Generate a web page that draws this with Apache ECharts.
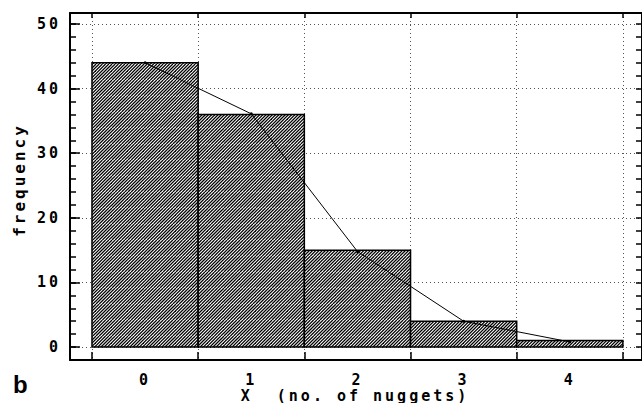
<!DOCTYPE html>
<html>
<head>
<meta charset="utf-8">
<script src="https://cdn.jsdelivr.net/npm/echarts@6/dist/echarts.min.js"></script>
<style>
  html, body { margin: 0; padding: 0; background: #fff; }
  #chart { width: 642px; height: 403px; }
  /* wide plotter-style lettering */
  #chart text { letter-spacing: 3px; }
</style>
</head>
<body>
<div id="chart"></div>
<script>
// Nugget counts per sample and the fitted curve
const categories = [0, 1, 2, 3, 4];
const observed = [44, 36, 15, 4, 1];
const fitted = [44, 36.1, 14.8, 4.0, 0.8];
const yTickLabels = [0, 10, 20, 30, 40, 50];
const xTickLabels = [0, 1, 2, 3, 4];
const binEdges = [-0.5, 0.5, 1.5, 2.5, 3.5, 4.5];

const yMin = -2, yMax = 51.7;
const xMin = -0.707, xMax = 4.68;
const yMinor = [];
for (let v = yMin; v <= 50; v += 2) yMinor.push(v);

// diagonal hatch tile
function hatchTile() {
  const s = 16, step = 3.2;
  const c = document.createElement('canvas');
  c.width = s; c.height = s;
  const g = c.getContext('2d');
  g.fillStyle = '#fff';
  g.fillRect(0, 0, s, s);
  g.strokeStyle = '#000';
  g.lineWidth = 1.25;
  for (let o = -2 * s; o <= 2 * s; o += step) {
    g.beginPath();
    g.moveTo(o, s);
    g.lineTo(o + s, 0);
    g.stroke();
  }
  return c;
}
const hatch = { image: hatchTile(), repeat: 'repeat' };

const monoFont = 'DejaVu Sans Mono';
const chart = echarts.init(document.getElementById('chart'), null, { renderer: 'svg' });

const tickText = { fontFamily: monoFont, fontWeight: 'bold', fontSize: 15, color: '#000' };
const dotted = { color: '#555', width: 1, type: [1, 3] };
const blackTick = { color: '#000', width: 1.5 };

chart.setOption({
  animation: false,
  backgroundColor: '#fff',
  grid: { left: 70, top: 13, right: -1, bottom: 43 },
  xAxis: [
    {
      type: 'value', position: 'bottom', min: xMin, max: xMax,
      axisLine: { show: true, onZero: false, lineStyle: { color: '#000', width: 2 } },
      axisTick: { show: true, inside: true, length: 8, customValues: binEdges, lineStyle: blackTick },
      axisLabel: { show: true, customValues: xTickLabels, margin: 12, ...tickText },
      splitLine: { show: true, lineStyle: dotted }
    },
    {
      type: 'value', position: 'top', min: xMin, max: xMax,
      axisLine: { show: true, onZero: false, lineStyle: { color: '#000', width: 2 } },
      axisTick: { show: true, inside: true, length: 5, customValues: binEdges, lineStyle: blackTick },
      axisLabel: { show: false },
      splitLine: { show: false }
    }
  ],
  yAxis: [
    {
      type: 'value', position: 'left', min: yMin, max: yMax,
      axisLine: { show: true, onZero: false, lineStyle: { color: '#000', width: 2 } },
      axisTick: { show: true, inside: true, length: 10, customValues: yTickLabels, lineStyle: blackTick },
      axisLabel: { show: true, customValues: yTickLabels, margin: 9, ...tickText },
      splitLine: { show: true, lineStyle: dotted }
    },
    {
      type: 'value', position: 'left', min: yMin, max: yMax,
      axisLine: { show: false, onZero: false },
      axisTick: { show: true, inside: true, length: 6, customValues: yMinor, lineStyle: blackTick },
      axisLabel: { show: false },
      splitLine: { show: false }
    },
    {
      type: 'value', position: 'right', min: yMin, max: yMax,
      axisLine: { show: true, onZero: false, lineStyle: { color: '#000', width: 2 } },
      axisTick: { show: true, inside: true, length: 6, customValues: yMinor, lineStyle: blackTick },
      axisLabel: { show: false },
      splitLine: { show: false }
    }
  ],
  series: [
    {
      type: 'custom',
      xAxisIndex: 0, yAxisIndex: 0,
      data: categories.map((c, i) => [c, observed[i]]),
      renderItem: function (params, api) {
        const x = api.value(0), v = api.value(1);
        const p0 = api.coord([x - 0.5, v]);
        const p1 = api.coord([x + 0.5, 0]);
        return {
          type: 'rect',
          shape: { x: p0[0], y: p0[1], width: p1[0] - p0[0], height: p1[1] - p0[1] },
          style: { fill: hatch, stroke: '#000', lineWidth: 1.5 }
        };
      },
      z: 2
    },
    {
      type: 'line',
      xAxisIndex: 0, yAxisIndex: 0,
      data: categories.map((c, i) => [c, fitted[i]]),
      symbol: 'circle', symbolSize: 3,
      itemStyle: { color: '#000' },
      lineStyle: { color: '#000', width: 1 },
      z: 3
    }
  ],
  graphic: [
    {
      type: 'text', x: 355, y: 396,
      style: { text: 'X  (no. of nuggets)', textAlign: 'center', textVerticalAlign: 'middle',
               font: 'bold 15px "DejaVu Sans Mono"', fill: '#000' }
    },
    {
      type: 'text', x: 19, y: 180, rotation: Math.PI / 2,
      style: { text: 'frequency', textAlign: 'center', textVerticalAlign: 'middle',
               font: 'bold 16px "DejaVu Sans Mono"', fill: '#000' }
    },
    {
      type: 'text', x: 13, y: 384,
      style: { text: 'b', textAlign: 'left', textVerticalAlign: 'middle',
               font: 'bold 24px "Liberation Sans"', fill: '#000' }
    }
  ]
});
</script>
</body>
</html>
